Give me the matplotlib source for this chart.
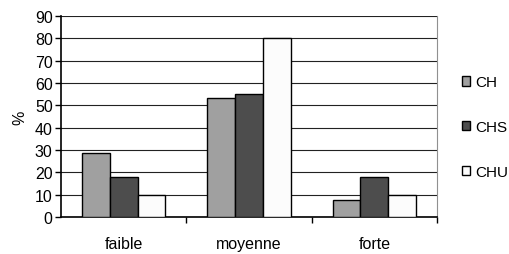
import numpy as np
import matplotlib.pyplot as plt

plt.rcParams['font.family'] = ['Liberation Sans', 'DejaVu Sans']

categories = ['faible', 'moyenne', 'forte']
series = ['CH', 'CHS', 'CHU']
ch = [28.5, 53.5, 7.5]
chs = [18, 55, 18]
chu = [10, 80, 10]
colors = ['#a0a0a0', '#4d4d4d', '#fcfcfc']

fig = plt.figure(figsize=(5.09, 2.55), dpi=100)
ax = fig.add_axes([61 / 509, 1 - 218 / 255, 376 / 509, 201 / 255])

x = np.arange(len(categories))
w = 0.222
for i, (name, vals) in enumerate(zip(series, [ch, chs, chu])):
    ax.bar(x + (i - 1) * w, vals, w, color=colors[i], edgecolor='black',
           linewidth=1.0, label=name, zorder=3)

ax.set_xlim(-0.5, 2.5)
ax.set_ylim(0, 90)
ax.set_yticks(range(0, 91, 10))
ax.yaxis.grid(True, color='#222222', linewidth=0.8, zorder=0)
ax.set_xticks([0.5, 1.5, 2.5], minor=False)
ax.set_xticklabels([])
ax.set_xticks(x, minor=True)
ax.set_xticklabels(categories, minor=True, fontsize=11.5)
ax.tick_params(axis='x', which='minor', length=0, pad=14)
ax.tick_params(axis='x', which='major', length=4, direction='out', width=1)
ax.tick_params(axis='y', length=4, direction='out', width=1, labelsize=11.5, pad=2)
ax.spines['top'].set_visible(False)
ax.spines['right'].set_color('#909090')
ax.spines['left'].set_linewidth(1.2)
ax.spines['bottom'].set_linewidth(1.2)
ax.set_ylabel('%', fontsize=11.5, labelpad=5)

leg = fig.legend(loc='center left', bbox_to_anchor=(462 / 509, 1 - 128 / 255),
                 frameon=False, fontsize=11, handlelength=0.55, handleheight=0.55,
                 handletextpad=0.3, labelspacing=2.0, borderpad=0, borderaxespad=0)

fig.savefig('out.png', dpi=100)
